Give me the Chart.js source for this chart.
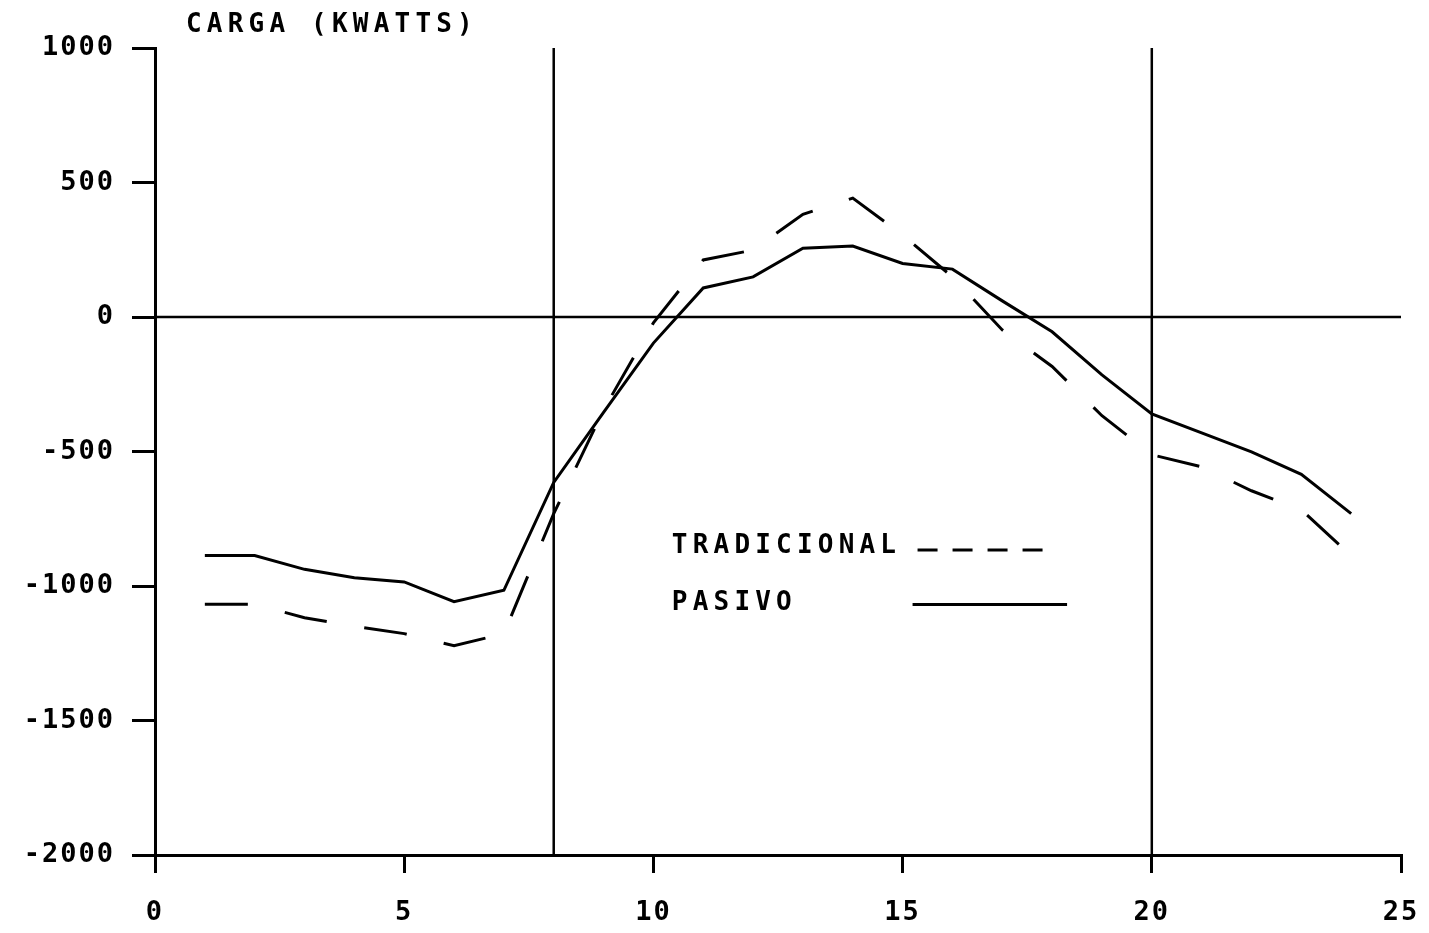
<!DOCTYPE html>
<html>
<head>
<meta charset="utf-8">
<script src="https://cdn.jsdelivr.net/npm/chart.js@4.4.1/dist/chart.umd.min.js"></script>
<style>
  html, body { margin: 0; padding: 0; background: #fff; }
  #wrap { width: 1429px; height: 933px; }
</style>
</head>
<body>
<div id="wrap"><canvas id="c" width="1429" height="933"></canvas></div>
<script>
// hora del dia
const hours = [1, 2, 3, 4, 5, 6, 7, 8, 9, 10, 11, 12, 13, 14, 15, 16, 17, 18, 19, 20, 21, 22, 23, 24];
// carga en kwatts
const tradicional = [-1068, -1068, -1118, -1150, -1177, -1222, -1177, -731, -345, -22, 212, 249, 382, 442, 305, 149, -48, -184, -367, -512, -557, -646, -717, -887];
const pasivo = [-887, -887, -938, -969, -985, -1058, -1016, -615, -355, -97, 108, 149, 256, 264, 199, 178, 60, -55, -215, -360, -431, -501, -585, -731];

const xTicks = [0, 5, 10, 15, 20, 25];
const yTicks = [-2000, -1500, -1000, -500, 0, 500, 1000];
const refX = [8, 20];
const refY = [0];

const caption = "CARGA (KWATTS)";
const FONT = "'DejaVu Sans Mono', 'Liberation Mono', monospace";
const INK = "#000";

Chart.defaults.font.family = FONT;
Chart.defaults.font.size = 27;
Chart.defaults.font.weight = "bold";
Chart.defaults.color = INK;

const pts = (ys) => hours.map((h, i) => ({ x: h, y: ys[i] }));

// plotter style letter spacing
const spacing = {
  id: "spacing",
  beforeDraw(ch) { ch.ctx.letterSpacing = "2px"; },
};

// reference lines at x=8, x=20 and y=0
const refLines = {
  id: "refLines",
  beforeDatasetsDraw(ch) {
    const { ctx, chartArea: a, scales: { x, y } } = ch;
    ctx.save();
    ctx.strokeStyle = INK;
    ctx.lineWidth = 2.5;
    ctx.beginPath();
    refX.forEach((v) => {
      const px = x.getPixelForValue(v);
      ctx.moveTo(px, a.top);
      ctx.lineTo(px, a.bottom);
    });
    refY.forEach((v) => {
      const py = y.getPixelForValue(v);
      ctx.moveTo(a.left, py);
      ctx.lineTo(a.right, py);
    });
    ctx.stroke();
    ctx.restore();
  },
};

// caption + in-plot legend (text first, sample after)
const legendRows = [
  { ds: 0, tx: 10.37, ty: -852, from: 15.3, to: 18.1, ly: -866, dash: [20, 15] },
  { ds: 1, tx: 10.37, ty: -1064, from: 15.2, to: 18.3, ly: -1069, dash: [] },
];

const annot = {
  id: "annot",
  afterDraw(ch) {
    const { ctx, scales: { x, y } } = ch;
    ctx.save();
    ctx.letterSpacing = "5.2px";
    ctx.fillStyle = INK;
    ctx.font = `bold 26px ${FONT}`;
    ctx.textBaseline = "middle";
    ctx.textAlign = "left";
    ctx.fillText(caption, 186, 25);

    legendRows.forEach((r) => {
      const ds = ch.data.datasets[r.ds];
      ctx.fillText(ds.label, x.getPixelForValue(r.tx), y.getPixelForValue(r.ty));
      ctx.strokeStyle = INK;
      ctx.lineWidth = 3;
      ctx.setLineDash(r.dash);
      ctx.beginPath();
      ctx.moveTo(x.getPixelForValue(r.from), y.getPixelForValue(r.ly));
      ctx.lineTo(x.getPixelForValue(r.to), y.getPixelForValue(r.ly));
      ctx.stroke();
    });
    ctx.restore();
  },
};

new Chart(document.getElementById("c"), {
  type: "line",
  data: {
    datasets: [
      {
        label: "TRADICIONAL",
        data: pts(tradicional),
        borderColor: INK,
        borderWidth: 3,
        borderDash: [43, 38],
        pointRadius: 0,
        tension: 0,
      },
      {
        label: "PASIVO",
        data: pts(pasivo),
        borderColor: INK,
        borderWidth: 3,
        pointRadius: 0,
        tension: 0,
      },
    ],
  },
  options: {
    responsive: false,
    animation: false,
    layout: { padding: { top: 48, right: 28, bottom: 0, left: 0 } },
    plugins: { legend: { display: false }, tooltip: { enabled: false }, title: { display: false } },
    scales: {
      x: {
        type: "linear",
        min: 0,
        max: 25,
        afterBuildTicks: (s) => (s.ticks = xTicks.map((v) => ({ value: v }))),
        afterFit: (s) => {
          s.height = 78;
          s.paddingLeft = 0;
          s.paddingRight = 0;
        },
        ticks: { padding: 24, maxRotation: 0, color: INK, callback: (v) => String(v) },
        grid: { drawOnChartArea: false, drawTicks: true, tickLength: 18, lineWidth: 3, color: INK },
        border: { color: INK, width: 3 },
      },
      y: {
        min: -2000,
        max: 1000,
        afterBuildTicks: (s) => (s.ticks = yTicks.map((v) => ({ value: v }))),
        afterFit: (s) => {
          s.width = 155;
          s.paddingTop = 0;
          s.paddingBottom = 0;
        },
        ticks: { padding: 17, color: INK, callback: (v) => String(v) },
        grid: { drawOnChartArea: false, drawTicks: true, tickLength: 23, lineWidth: 3, color: INK },
        border: { color: INK, width: 3 },
      },
    },
  },
  plugins: [spacing, refLines, annot],
});
</script>
</body>
</html>
